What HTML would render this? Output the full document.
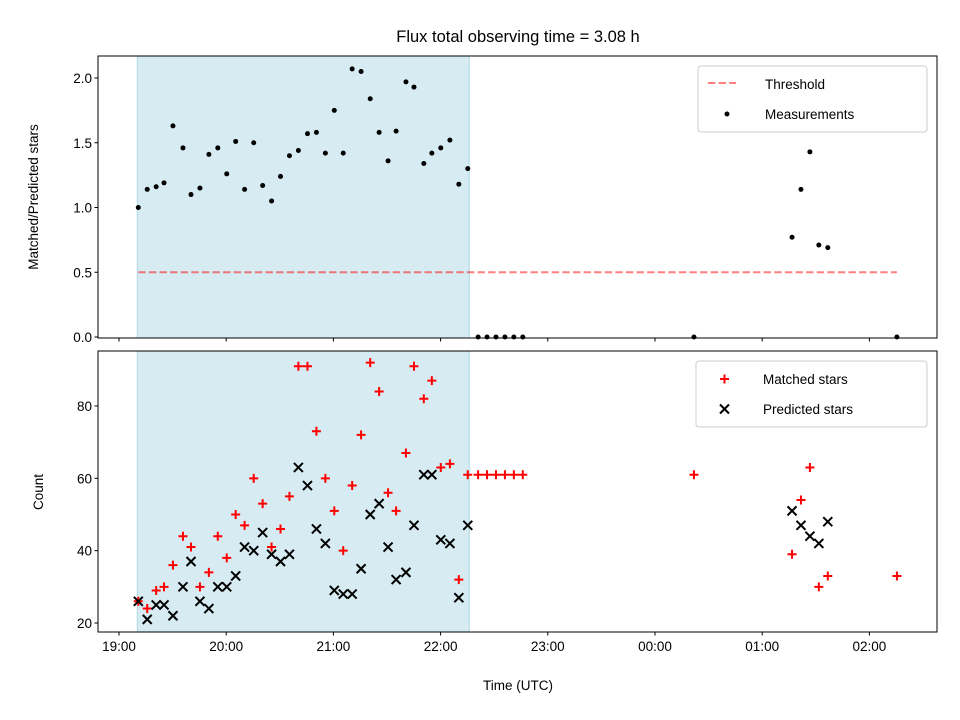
<!DOCTYPE html>
<html><head><meta charset="utf-8"><style>
body{margin:0;background:#fff}
svg{font-family:"Liberation Sans","DejaVu Sans",sans-serif;display:block}
</style></head><body>
<svg id="c" width="960" height="720"></svg>
<script>
// minutes after 19:00
const times=[10.8,15.8,20.8,25.2,30.2,35.8,40.3,45.3,50.3,55.3,60.3,65.3,70.3,75.4,80.4,85.4,90.4,95.4,100.4,105.5,110.5,115.5,120.5,125.5,130.5,135.5,140.6,145.6,150.6,155.1,160.6,165.1,170.6,175.1,180.1,185.2,190.2,195.2];
const ratio=[1.00,1.14,1.16,1.19,1.63,1.46,1.10,1.15,1.41,1.46,1.26,1.51,1.14,1.50,1.17,1.05,1.24,1.40,1.44,1.57,1.58,1.42,1.75,1.42,2.07,2.05,1.84,1.58,1.36,1.59,1.97,1.93,1.34,1.42,1.46,1.52,1.18,1.30];
const matched=[26,24,29,30,36,44,41,30,34,44,38,50,47,60,53,41,46,55,91,91,73,60,51,40,58,72,92,84,56,51,67,91,82,87,63,64,32,61];
const predicted=[26,21,25,25,22,30,37,26,24,30,30,33,41,40,45,39,37,39,63,58,46,42,29,28,28,35,50,53,41,32,34,47,61,61,43,42,27,47];
const zeroTimes=[201,206,211,216,221,226,321.8,435.4];
const zeroMatched=[61,61,61,61,61,61,61,33];
const lateTimes=[376.7,381.7,386.7,391.7,396.7];
const lateRatio=[0.77,1.14,1.43,0.71,0.69];
const lateMatched=[39,54,63,30,33];
const latePredicted=[51,47,44,42,48];
const xTickLabels=["19:00","20:00","21:00","22:00","23:00","00:00","01:00","02:00"];
const topYTicks=[0,0.5,1.0,1.5,2.0];
const botYTicks=[20,40,60,80];
const threshold=0.5;

const NS="http://www.w3.org/2000/svg";
const svg=document.getElementById('c');
function el(tag,attrs,parent){const e=document.createElementNS(NS,tag);for(const k in attrs)e.setAttribute(k,attrs[k]);(parent||svg).appendChild(e);return e;}
const L=98,R=937,T1=56,B1=338,T2=351,B2=632;
const X=m=>119+m*107.2/60;
const Y1=v=>337-v*129.5;
const Y2=v=>623-(v-20)*3.617;

for(const [t,b] of [[T1,B1],[T2,B2]]){
 const x0=X(times[0])-1, x1=X(times[times.length-1])+1.5;
 const r=el('rect',{x:x0,y:t,width:x1-x0,height:b-t,fill:'#add8e6','fill-opacity':0.5,stroke:'#add8e6','stroke-width':1});
 
 
}
const allT=times.concat(zeroTimes);
const th=el('line',{x1:X(times[0]),x2:X(Math.max(...allT)),y1:Y1(threshold),y2:Y1(threshold),stroke:'#ff0000','stroke-opacity':0.5,'stroke-width':2,'stroke-dasharray':'7.4,3.2'});


const tp=times.concat(zeroTimes,lateTimes), rp=ratio.concat(zeroTimes.map(()=>0),lateRatio);
tp.forEach((t,i)=>{const c=el('circle',{cx:X(t),cy:Y1(rp[i]),r:2.5,fill:'#000'});
 
 });
const mt=times.concat(zeroTimes,lateTimes), mv=matched.concat(zeroMatched,lateMatched);
const pt=times.concat(lateTimes), pv=predicted.concat(latePredicted);
mt.forEach((t,i)=>{const x=X(t),y=Y2(mv[i]);const g=el('path',{d:`M${x-4.5},${y}H${x+4.5}M${x},${y-4.5}V${y+4.5}`,stroke:'#ff0000','stroke-width':2});
 
 });
pt.forEach((t,i)=>{const x=X(t),y=Y2(pv[i]);const g=el('path',{d:`M${x-4.5},${y-4.5}L${x+4.5},${y+4.5}M${x-4.5},${y+4.5}L${x+4.5},${y-4.5}`,stroke:'#000','stroke-width':2});
 
 });
for(const [t,b,n] of [[T1,B1,'top-axes'],[T2,B2,'bottom-axes']]){
 const f=el('rect',{x:L,y:t,width:R-L,height:b-t,fill:'none',stroke:'#000','stroke-width':1});
 
 
}
xTickLabels.forEach((s,i)=>{const x=X(i*60);
 el('line',{x1:x,x2:x,y1:B1,y2:B1+3.5,stroke:'#000'});
 el('line',{x1:x,x2:x,y1:B2,y2:B2+3.5,stroke:'#000'});
 const tx=el('text',{x:x,y:B2+19,'text-anchor':'middle','font-size':13.5});tx.textContent=s;
 
 });
topYTicks.forEach(v=>{const y=Y1(v);el('line',{x1:L-3.5,x2:L,y1:y,y2:y,stroke:'#000'});
 const tx=el('text',{x:L-6,y:y+5,'text-anchor':'end','font-size':13.5});tx.textContent=v.toFixed(1);
 
 });
botYTicks.forEach(v=>{const y=Y2(v);el('line',{x1:L-3.5,x2:L,y1:y,y2:y,stroke:'#000'});
 const tx=el('text',{x:L-6,y:y+5,'text-anchor':'end','font-size':13.5});tx.textContent=v;
 
 });
</script>
<svg width="960" height="720" style="position:absolute;left:0;top:0">
<text x="518" y="42" text-anchor="middle" font-size="16.5">Flux total observing time = 3.08 h</text>
<text x="518" y="690" text-anchor="middle" font-size="13.5">Time (UTC)</text>
<text transform="translate(38,197) rotate(-90)" text-anchor="middle" font-size="13.5">Matched/Predicted stars</text>
<text transform="translate(43,492) rotate(-90)" text-anchor="middle" font-size="13.5">Count</text>
<g>
<rect x="698" y="66" width="229" height="66" rx="3" fill="#fff" fill-opacity="0.8" stroke="#ccc"/>
<line x1="708" x2="736" y1="83" y2="83" stroke="#ff0000" stroke-opacity="0.5" stroke-width="2" stroke-dasharray="7.4,3.2"/>
<text x="765" y="89" font-size="13.5">Threshold</text>
<circle cx="727" cy="114" r="2.5" fill="#000"/>
<text x="765" y="119" font-size="13.5">Measurements</text>
</g>
<g>
<rect x="696" y="361" width="231" height="66" rx="3" fill="#fff" fill-opacity="0.8" stroke="#ccc"/>
<path d="M720,379H729M724.5,374.5V383.5" stroke="#ff0000" stroke-width="2"/>
<text x="763" y="384" font-size="13.5">Matched stars</text>
<path d="M720,404.5L729,413.5M720,413.5L729,404.5" stroke="#000" stroke-width="2"/>
<text x="763" y="414" font-size="13.5">Predicted stars</text>
</g>
</svg>
</body></html>
